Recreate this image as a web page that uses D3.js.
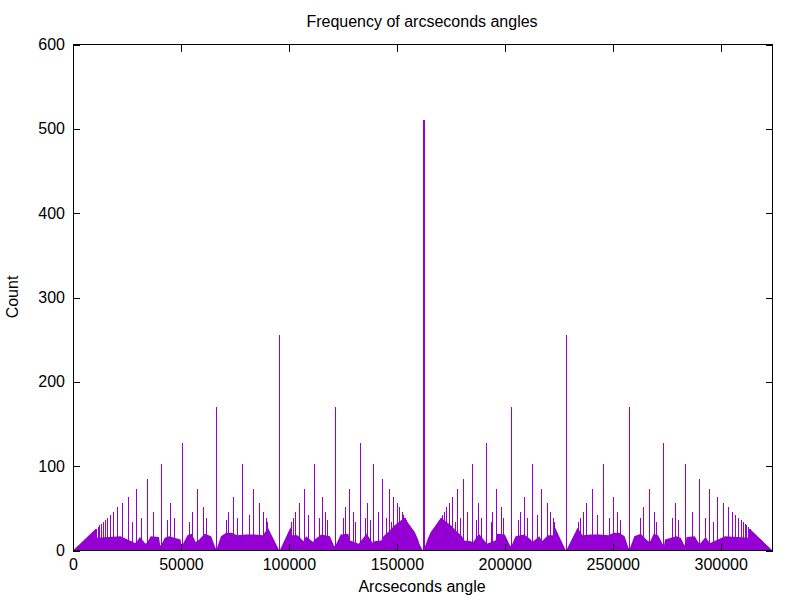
<!DOCTYPE html>
<html>
<head>
<meta charset="utf-8">
<script src="https://cdnjs.cloudflare.com/ajax/libs/d3/7.8.5/d3.min.js"></script>
<style>
  body { margin: 0; background: #fff; }
  text { font-family: "Liberation Sans", Arial, sans-serif; font-size: 16px; fill: #000; }
</style>
</head>
<body>
<svg id="chart" width="800" height="600"></svg>
<script>
// arcsecond angle, count  (left half 0..45deg)
var leftSpikes = [
  [95634,255],
  [66366,170],[121284,170],
  [50530,127],[132732,127],
  [40716,102],[78485,102],[111470,102],[139175,102],
  [34064,85],[143300,85],
  [29268,73],[57403,73],[83515,73],[107082,73],[127936,73],[146165,73],
  [25650,63],[74002,63],[115219,63],[148269,63],
  [22825,56],[45104,56],[86265,56],[104597,56],[136350,56],[149881,56],
  [20558,51],[60117,51],[125971,51],[151154,51],
  [18700,46],[37097,46],[54918,46],[71939,46],[87998,46],[102998,46],[116896,46],[129699,46],[141442,46],[152185,46],
  [17149,42],[81432,42],[108923,42],[153037,42],
  [15835,39],[31486,39],[46781,39],[61570,39],[75735,39],[89190,39],[101883,39],[113787,39],[124903,39],[135247,39],[144851,39],[153754,39],
  [14708,36],[43541,36],[70754,36],[117847,36],[137366,36],[154364,36],
  [13731,34],[27341,34],[53753,34],[90061,34],[101061,34],[130514,34],[147292,34],[154890,34],
  [12875,31],[12119,30],[11447,28],[10846,26],[10305,25],
  [155349,31],[155751,30],[156108,28],[156427,26],[156712,25]
];
var centreSpike = [[162000,510]];
// right half 45..90deg
var rightSpikes = [
  [228366,255],
  [257634,170],[202716,170],
  [273470,127],[191268,127],
  [283284,102],[245515,102],[212530,102],[184825,102],
  [289936,85],[180700,85],
  [294732,73],[266597,73],[240485,73],[216918,73],[196064,73],[177835,73],
  [298350,63],[249998,63],[208781,63],[175731,63],
  [301175,56],[278896,56],[237735,56],[219403,56],[187650,56],[174119,56],
  [303442,51],[263883,51],[198029,51],[172846,51],
  [305300,46],[286903,46],[269082,46],[252061,46],[236002,46],[221002,46],[207104,46],[194301,46],[182558,46],[171815,46],
  [306851,42],[242568,42],[215077,42],[170963,42],
  [308165,39],[292514,39],[277219,39],[262430,39],[248265,39],[234810,39],[222117,39],[210213,39],[199097,39],[188753,39],[179149,39],[170246,39],
  [309292,36],[280459,36],[253246,36],[206153,36],[186634,36],[169636,36],
  [310269,34],[296659,34],[270247,34],[233939,34],[222939,34],[193486,34],[176708,34],[169110,34],
  [311125,31],[311881,30],[312553,28],[313154,26],[313695,25],
  [168651,31],[168249,30],[167892,28],[167573,26],[167288,25]
];

// the dense "grass" under the spikes, top edge as read
var leftFloor = [[0,0],[10200,25],[10500,15],[22000,17],[28800,9],[29700,11],[31000,16],[33600,8],[34500,10],[36000,17],
  [39800,16],[40400,6],[41000,7],[42500,15],[44500,17],[49800,13],[50300,5],[50800,7],[53000,18],[55000,20],
  [56800,10],[58000,12],[61000,20],[64000,17],[66000,3],[66700,3],[68500,17],[71000,21],[73500,21],[76000,18],
  [80000,19],[84000,19],[88000,18],[90300,27],[95400,1],[95900,1],[100800,28],[101300,18],[104000,18],[106800,11],
  [108000,17],[111200,10],[112000,13],[115000,19],[119000,17],[121000,5],[121600,6],[124000,19],[127500,20],[128300,12],
  [132400,8],[133200,11],[136000,20],[138900,9],[139600,11],[142800,12],[143800,17],[146000,22],[149000,30],[152000,36],
  [153500,39],[156000,30],[158300,22],[159700,14],[160600,7],[162000,0]];
var rightFloor = [[162000,0],[163400,7],[164300,14],[165700,22],[168000,30],[170500,39],[172000,36],[175000,30],[178000,22],[180200,17],
  [181200,12],[184400,11],[185100,9],[188000,20],[190800,11],[191600,8],[195700,12],[196500,20],[200000,19],[202400,6],
  [203000,5],[205000,17],[209000,19],[212000,13],[212800,10],[216000,17],[217200,11],[220000,18],[222700,18],[223200,28],
  [228100,1],[228600,1],[233700,27],[236000,18],[240000,19],[244000,19],[248000,18],[250500,21],[253000,21],[255500,17],
  [257300,3],[258000,3],[260000,17],[263000,20],[266000,12],[267200,10],[269000,20],[271000,18],[273200,7],[273700,5],
  [274200,13],[279500,17],[281500,15],[283000,7],[283600,6],[284200,16],[288000,17],[289500,10],[290400,8],[293000,16],
  [294300,11],[295200,9],[302000,17],[313500,15],[313800,25],[324000,0]];

var xTicks = [0, 50000, 100000, 150000, 200000, 250000, 300000];
var yTicks = [0, 100, 200, 300, 400, 500, 600];

var colour = '#9400d3';
// plot frame (window.top is read only, so no bare "top")
var mLeft = 73, mRight = 772.5, mTop = 44.5, mBottom = 550.5;

var svg = d3.select('#chart');

var x = d3.scaleLinear().domain([0, 324000]).range([mLeft, mRight]);
var y = d3.scaleLinear().domain([0, 600]).range([mBottom, mTop]);

// floor area
var area = d3.area()
  .x(function(d) { return x(d[0]); })
  .y0(y(0))
  .y1(function(d) { return y(d[1]); });

svg.append('path').datum(leftFloor.concat(rightFloor.slice(1)))
  .attr('d', area)
  .attr('fill', colour);

// impulses
var spikes = leftSpikes.concat(centreSpike, rightSpikes);
svg.append('g').selectAll('line')
  .data(spikes).enter()
  .append('line')
  .attr('x1', function(d) { return Math.round(x(d[0])) + 0.5; })
  .attr('x2', function(d) { return Math.round(x(d[0])) + 0.5; })
  .attr('y1', y(0))
  .attr('y2', function(d) { return y(d[1]); })
  .attr('stroke', colour)
  .attr('stroke-width', function(d) { return d[1] > 400 ? 2 : 1; })
  .attr('shape-rendering', 'crispEdges');

// axes, ticks pointing inward on all four sides like gnuplot
var tk = 7;
svg.append('g').attr('transform', 'translate(0,' + mBottom + ')')
  .call(d3.axisBottom(x).tickValues(xTicks).tickFormat(d3.format('d')).tickSize(-tk).tickPadding(8));
svg.append('g').attr('transform', 'translate(0,' + mTop + ')')
  .call(d3.axisTop(x).tickValues(xTicks).tickFormat('').tickSize(-tk));
svg.append('g').attr('transform', 'translate(' + mLeft + ',0)')
  .call(d3.axisLeft(y).tickValues(yTicks).tickSize(-tk).tickPadding(8));
svg.append('g').attr('transform', 'translate(' + mRight + ',0)')
  .call(d3.axisRight(y).tickValues(yTicks).tickFormat('').tickSize(-tk));

svg.selectAll('.domain').remove();
svg.selectAll('.tick line').attr('stroke', '#000').attr('shape-rendering', 'crispEdges');
svg.selectAll('.tick text').attr('font-size', 16).attr('font-family', '"Liberation Sans", Arial, sans-serif').attr('fill', '#000');

svg.append('rect')
  .attr('x', mLeft).attr('y', mTop)
  .attr('width', mRight - mLeft).attr('height', mBottom - mTop)
  .attr('fill', 'none').attr('stroke', '#000').attr('stroke-width', 1)
  .attr('shape-rendering', 'crispEdges');

svg.append('text').attr('x', 422).attr('y', 27).attr('text-anchor', 'middle')
  .text('Frequency of arcseconds angles');
svg.append('text').attr('x', 422).attr('y', 592).attr('text-anchor', 'middle')
  .text('Arcseconds angle');
svg.append('text').attr('transform', 'translate(18,297) rotate(-90)').attr('text-anchor', 'middle')
  .text('Count');
</script>
</body>
</html>
